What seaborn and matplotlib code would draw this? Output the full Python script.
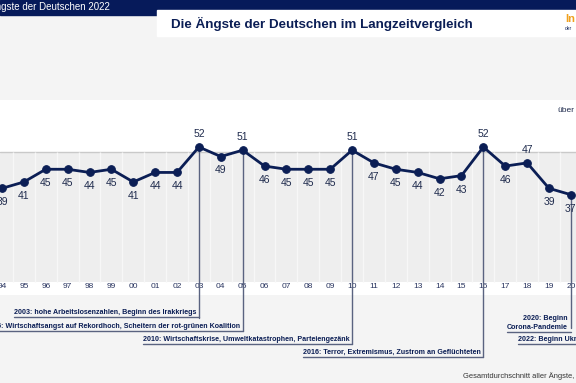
import numpy as np
import pandas as pd
import matplotlib.pyplot as plt
import seaborn as sns
from matplotlib.patches import Rectangle

# DATA

years = list(range(1994, 2021))
year_labels = [f"{y % 100:02d}" for y in years]
fear_index = [39, 41, 45, 45, 44, 45, 41, 44, 44, 52, 49, 51, 46, 45, 45, 45,
              51, 47, 45, 44, 42, 43, 52, 46, 47, 39, 37]
labels_above = [2003, 2005, 2010, 2016, 2018]

event_years = [2003, 2005, 2010, 2016, 2020, 2022]
event_texts = [
    "2003: hohe Arbeitslosenzahlen, Beginn des Irakkriegs",
    "2005: Wirtschaftsangst auf Rekordhoch, Scheitern der rot-grünen Koalition",
    "2010: Wirtschaftskrise, Umweltkatastrophen, Parteiengezänk",
    "2016: Terror, Extremismus, Zustrom an Geflüchteten",
    "2020: Beginn\nCorona-Pandemie",
    "2022: Beginn Ukraine-Krieg",
]
# vertical position of the event labels (in index units, below the axis)
event_y = [-0.2, -4.3, -8.4, -12.5, -3.4, -8.4]

df = pd.DataFrame({"year": years, "value": fear_index})

# STYLE

NAVY = "#0b1e55"
TEXT = "#1f2b4d"
BG = "#f4f4f4"
W, H = 576, 383

sns.set_theme(style="white")
plt.rcParams["font.family"] = ["Liberation Sans", "DejaVu Sans"]


def fx(px):
    return px / W


def fy(py):
    return 1 - py / H


fig = plt.figure(figsize=(W / 100, H / 100), dpi=100, facecolor=BG)

# header bar and title box
fig.patches.append(Rectangle((0, fy(15)), 1, 15 / H, transform=fig.transFigure,
                             color="#061a5a", zorder=0))
fig.patches.append(Rectangle((fx(157), fy(36)), 1, 26 / H, transform=fig.transFigure,
                             color="white", zorder=1))
fig.text(fx(110), fy(7), "Die Ängste der Deutschen 2022", ha="right", va="center",
         color="white", fontsize=7)
fig.text(fx(322), fy(24), "Die Ängste der Deutschen im Langzeitvergleich",
         ha="center", va="center", color=NAVY, fontsize=9.6, fontweight="bold")
fig.text(fx(565), fy(19), "In", ha="left", va="center", color="#f0a01e",
         fontsize=8, fontweight="bold")
fig.text(fx(565), fy(29), "der", ha="left", va="center", color=NAVY, fontsize=3.5)

# MAIN AXES (px 100..295 vertically, full width)

ax = fig.add_axes([0, fy(295), 1, 195 / H])
ax.set_facecolor("white")
ax.set_xlim(1994 - 2 / 21.88, 1994 + 574 / 21.88)
ax.set_ylim(5.46, 66.78)
for s in ax.spines.values():
    s.set_visible(False)

# grey panel with faint column separators
ax.axhspan(9.55, 50.43, color="#eeeeee", lw=0, zorder=0)
ax.axhline(50.43, color="#c9c9c9", lw=1, zorder=1)
ax.vlines(np.array(years[:-1]) + 0.5, 9.55, 50.43, color="#f7f7f7", lw=1, zorder=1)

# event lines from the point down to the label
value_of = dict(zip(years, fear_index))
for yr, ey in zip(event_years, event_y):
    if yr in value_of:
        ax.plot([yr, yr], [value_of[yr], ey - 1.6], color="#5a6380", lw=1,
                clip_on=False, zorder=2)

sns.lineplot(data=df, x="year", y="value", ax=ax, color=NAVY, lw=2,
             marker="o", markersize=5.5, markeredgecolor=NAVY, clip_on=False, zorder=4)

for yr, v in zip(years, fear_index):
    off = 9.4 if yr in labels_above else -10
    ax.annotate(str(v), (yr, v), xytext=(0, off), textcoords="offset points",
                ha="center", va="center", fontsize=7.5, color=TEXT, annotation_clip=False)

ax.set_xticks(years)
ax.set_xticklabels(year_labels, fontsize=6, color="#2a3560")
ax.tick_params(axis="x", length=0, pad=-8.5)
ax.set_yticks([])
ax.set_xlabel("")
ax.set_ylabel("")

# event labels with underline
fig.canvas.draw()
renderer = fig.canvas.get_renderer()
inv = ax.transData.inverted()
for yr, txt, ey in zip(event_years, event_texts, event_y):
    t = ax.annotate(txt, (yr, ey), xytext=(-2, 0), textcoords="offset points",
                    ha="right", va="center", fontsize=5.1, fontweight="bold",
                    color=NAVY, annotation_clip=False, linespacing=1.5)
    bb = t.get_window_extent(renderer)
    x0, y0 = inv.transform((bb.x0, bb.y0 - 1))
    ax.plot([x0, yr], [y0, y0], color="#5a6380", lw=1, clip_on=False, zorder=2)

fig.text(fx(557), fy(110), "über", ha="left", va="center", fontsize=6, color=TEXT)

fig.text(fx(463), fy(376), "Gesamtdurchschnitt aller Ängste, in", ha="left",
         va="center", fontsize=5.4, color="#333333")

fig.savefig("out.png", dpi=100, facecolor=BG)
